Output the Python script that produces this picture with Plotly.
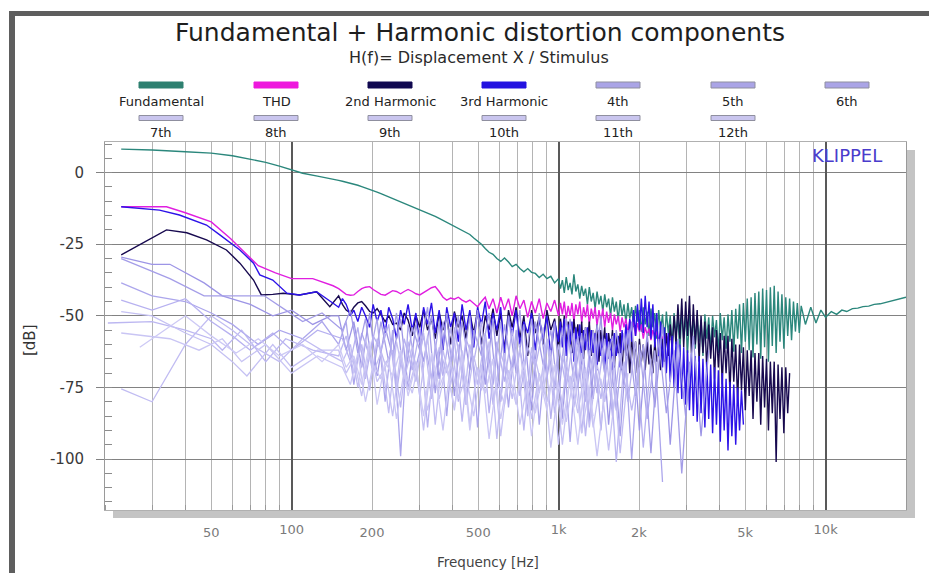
import plotly.graph_objects as go

# ---------------- data ----------------
SERIES_NAMES = ["Fundamental", "THD", "2nd Harmonic", "3rd Harmonic", "4th", "5th", "6th",
                "7th", "8th", "9th", "10th", "11th", "12th"]

# measurement frequency grid, 150 Hz .. 8.1 kHz (Hz)
F_HI = [150, 155, 160, 166, 171, 177, 183, 189, 196, 202,
        209, 216, 224, 231, 239, 247, 256, 264, 273, 283,
        292, 302, 312, 323, 334, 345, 357, 369, 381, 394,
        407, 421, 435, 450, 465, 481, 497, 514, 531, 549,
        568, 587, 607, 627, 649, 670, 693, 716, 741, 766,
        792, 818, 846, 875, 904, 935, 966, 999, 1033, 1068,
        1104, 1141, 1180, 1220, 1261, 1303, 1347, 1393, 1440, 1488,
        1539, 1591, 1644, 1700, 1757, 1817, 1878, 1941, 2007, 2075,
        2145, 2217, 2292, 2370, 2450, 2532, 2618, 2706, 2798, 2892,
        2990, 3091, 3195, 3303, 3415, 3530, 3649, 3773, 3900, 4032,
        4168, 4309, 4454, 4605, 4760, 4921, 5087, 5259, 5437, 5620,
        5810, 6006, 6209, 6419, 6636, 6860, 7092, 7331, 7579, 7835,
        8100]

# finer grid above 1 kHz for the four main curves (Hz)
F_HK = [999, 1016, 1033, 1050, 1068, 1086, 1104, 1122, 1141, 1160,
        1180, 1200, 1220, 1240, 1261, 1282, 1303, 1325, 1347, 1370,
        1393, 1416, 1440, 1464, 1488, 1513, 1539, 1565, 1591, 1617,
        1644, 1672, 1700, 1728, 1757, 1787, 1817, 1847, 1878, 1909,
        1941, 1974, 2007, 2041, 2075, 2110, 2145, 2181, 2217, 2254,
        2292, 2331, 2370, 2410, 2450, 2491, 2532, 2575, 2618, 2662,
        2706, 2752, 2798, 2845, 2892, 2941, 2990, 3040, 3091, 3143,
        3195, 3249, 3303, 3359, 3415, 3472, 3530, 3589, 3649, 3711,
        3773, 3836, 3900, 3966, 4032, 4100, 4168, 4238, 4309, 4381,
        4454, 4529, 4605, 4682, 4760, 4840, 4921, 5003, 5087, 5172,
        5259, 5347, 5437, 5528, 5620, 5714, 5810, 5907, 6006, 6107,
        6209, 6313, 6419, 6527, 6636, 6747, 6860, 6975, 7092, 7211,
        7331, 7454, 7579, 7706, 7835, 7967, 8100]

# Fundamental
FUND_LO_F = [23, 30, 40, 50, 60, 70, 80, 90, 100, 110, 125, 140]
FUND_LO_DB = [8.2, 7.9, 7.3, 6.8, 5.9, 4.8, 3.6, 2.3, 0.9, -0.2, -1.2, -2.3]
FUND_MID_DB = [-2.7, -3.0, -3.3, -3.7, -4.0, -4.4, -4.9, -5.3, -5.8, -6.3,
               -6.8, -7.3, -7.9, -8.5, -9.1, -9.6, -10.2, -10.8, -11.3, -11.9,
               -12.4, -13.0, -13.5, -14.1, -14.6, -15.3, -16.0, -16.7, -17.4, -18.0,
               -18.6, -19.5, -20.2, -21.0, -21.6, -22.8, -23.8, -25.0, -26.5, -27.8,
               -28.5, -30.0, -31.0, -29.8, -31.2, -32.8, -32.0, -33.5, -34.6, -33.5,
               -34.8, -35.2, -36.6, -35.5, -37.0, -36.2, -38.5]
FUND_HK_DB = [-37.0, -40.5, -37.5, -42.0, -36.5, -41.0, -38.5, -42.5, -35.5, -41.5,
              -39.0, -44.0, -39.5, -43.0, -40.5, -46.0, -40.0, -45.0, -42.0, -47.5,
              -41.5, -46.0, -43.0, -48.5, -42.5, -47.0, -44.0, -50.0, -43.5, -48.5,
              -45.0, -51.5, -44.5, -50.0, -46.0, -52.5, -45.5, -51.0, -47.0, -54.0,
              -46.5, -52.0, -48.0, -55.5, -47.0, -53.0, -48.5, -57.0, -47.5, -54.0,
              -49.0, -58.0, -48.0, -55.0, -49.5, -59.5, -48.5, -56.0, -50.0, -61.0,
              -49.0, -57.0, -50.5, -62.5, -48.5, -58.0, -50.0, -63.0, -49.5, -57.5,
              -51.0, -61.5, -50.0, -59.0, -51.5, -64.0, -49.5, -58.0, -50.5, -62.0,
              -50.0, -57.5, -51.5, -63.0, -49.0, -58.5, -50.5, -61.5, -49.5, -59.0,
              -48.0, -62.5, -47.5, -58.0, -46.0, -63.0, -45.5, -59.0, -44.0, -62.0,
              -43.5, -64.5, -42.0, -60.0, -41.5, -65.0, -40.5, -61.0, -41.0, -66.0,
              -40.0, -60.5, -39.5, -63.0, -41.5, -59.0, -42.5, -61.5, -43.5, -57.0,
              -44.0, -58.5, -45.0, -55.5, -45.5, -56.0, -46.5]
FUND_EXT_F = [8400, 8800, 9200, 9600, 10000, 10500, 11000, 11500, 12000, 12600,
              13200, 13800, 14500, 15200, 16000, 16800, 17600, 18500, 19400, 20000]
FUND_EXT_DB = [-53.0, -47.0, -52.5, -48.0, -50.5, -48.5, -49.5, -48.0, -48.5, -47.5,
               -47.3, -46.8, -46.6, -46.0, -45.8, -45.3, -45.0, -44.5, -44.0, -43.5]

# THD
THD_LO_F = [23, 34, 40, 50, 59, 67, 75, 87, 100, 120, 143]
THD_LO_DB = [-11.9, -11.9, -14.0, -17.2, -23.0, -28.0, -32.5, -35.0, -37.0, -37.0, -39.5]
THD_MID_DB = [-40.5, -41.5, -42.5, -42.8, -42.7, -41.5, -40.5, -40.0, -39.8, -40.8,
              -41.8, -42.5, -42.8, -42.0, -41.2, -41.5, -42.3, -41.5, -40.8, -41.5,
              -42.3, -42.7, -42.0, -41.0, -40.2, -39.8, -41.5, -43.5, -44.5, -43.8,
              -44.2, -43.5, -44.5, -45.2, -44.5, -45.8, -46.8, -45.0, -43.5, -47.5,
              -44.0, -49.0, -43.5, -48.0, -44.0, -50.0, -43.0, -47.5, -44.5, -50.5,
              -45.0, -49.0, -44.0, -51.0, -45.5, -48.5, -44.5]
THD_HK_DB = [-50.0, -45.5, -49.5, -45.0, -51.0, -46.5, -50.0, -45.5, -52.0, -46.0,
             -49.5, -45.0, -52.5, -47.0, -50.5, -46.0, -53.0, -47.5, -51.0, -47.0,
             -53.5, -48.0, -52.0, -47.5, -54.0, -48.5, -52.5, -49.0, -55.0, -49.5,
             -53.0, -50.0, -55.5, -50.5, -54.0, -51.0, -56.0, -51.5, -54.5, -52.0,
             -57.0, -52.5, -55.5, -53.0, -58.0, -54.0, -56.5, -54.5, -58.5, -55.0,
             -57.5, -55.5, -59.0, -56.0, -58.0, -56.5, -59.0, -57.0, -58.5]

# 2nd harmonic
H2_LO_F = [23, 34, 40.5, 48, 57, 64, 72, 77, 85, 93, 107, 124, 139]
H2_LO_DB = [-28.7, -20.0, -21.0, -23.5, -27.0, -31.6, -37.5, -42.7, -42.5, -42.1, -42.7, -41.6, -46.8]
H2_MID_DB = [-43, -46, -48, -49, -47, -45.5, -45, -46.5, -48.5, -49,
             -47.5, -49.5, -52, -50, -53, -52.5, -55, -49, -51.5, -57,
             -50, -54, -48, -55, -51, -58, -49, -55, -50, -60,
             -48.5, -54, -50, -58, -49, -56, -48, -60, -50, -55,
             -47.5, -57, -49, -62, -48, -54, -47, -58, -50, -64,
             -48, -56, -50.5, -60, -48, -55, -51]
H2_HK_DB = [-62, -51, -57, -50, -60, -52, -56, -63, -51, -58,
            -53, -61, -52, -65, -54, -59, -52, -64, -55, -60,
            -53, -66, -55, -61, -54, -67, -56, -62, -55, -68,
            -57, -63, -56, -69, -57, -64, -58, -70, -57, -65,
            -59, -70, -58, -66, -60, -69, -59, -67, -60, -70,
            -59, -66, -61, -69, -58, -66, -56, -64, -53, -62,
            -50, -60, -46, -58, -44, -61, -45, -57, -43, -63,
            -46, -60, -48, -66, -50, -63, -52, -69, -53, -65,
            -54, -72, -55, -68, -56, -74, -57, -70, -57, -77,
            -58, -73, -60, -80, -60, -76, -61, -83, -62, -78,
            -62, -86, -63, -80, -63, -88, -64, -82, -65, -90,
            -66, -84, -66, -101, -67, -86, -68, -91, -68, -84,
            -70]

# 3rd harmonic
H3_LO_F = [23, 32, 38, 48, 54, 64, 72, 76, 85, 96, 107, 124, 143]
H3_LO_DB = [-11.9, -13.1, -14.8, -18.3, -21.8, -27.0, -31.6, -35.7, -37.5, -42.1, -42.7, -41.6, -45.6]
H3_MID_DB = [-47, -44, -46, -50, -48, -52, -47, -50, -54, -46,
             -52, -48, -56, -47, -51, -58, -48, -53, -46, -55,
             -49, -60, -47, -53, -45.5, -56, -48, -62, -47, -54,
             -49, -59, -46, -55, -48, -61, -47, -53, -45, -58,
             -49, -55, -47, -63, -50, -57, -48, -60, -52, -56,
             -49, -62, -51, -58, -50, -64, -52]
H3_HK_DB = [-59, -52, -61, -51, -64, -53, -60, -52, -66, -54,
            -61, -53, -67, -55, -62, -54, -68, -55, -63, -56,
            -69, -55, -64, -57, -70, -56, -65, -58, -69, -56,
            -64, -57, -68, -55, -62, -53, -60, -51, -59, -48,
            -57, -46, -55, -44, -56, -43, -54, -45, -58, -46,
            -61, -49, -64, -52, -68, -54, -70, -56, -73, -57,
            -75, -59, -77, -60, -79, -61, -81, -62, -83, -63,
            -85, -64, -87, -64, -84, -65, -89, -66, -86, -67,
            -91, -68, -88, -69, -94, -70, -90, -72, -97, -73,
            -92, -74, -95, -75, -90, -76, -88]

# higher harmonics: low-frequency part + noisy part on every 2nd grid point
H4_LO_F = [23, 30, 35, 47, 55, 70, 85, 100, 120, 140]
H4_LO_DB = [-29.5, -32, -32, -38.5, -43, -46, -50, -48, -53, -50]
H4_HI_DB = [-50, -62, -52, -68, -49, -71, -54, -64, -51, -75, -53, -66, -50, -72, -49, -78,
            -52, -69, -48, -74, -51, -80, -50, -70, -53, -83, -49, -72, -52, -86, -51, -75,
            -54, -79, -50, -88, -55, -74, -52, -90, -56, -82, -53, -95, -58, -85, -57, -92, -62]
H5_LO_F = [23, 35, 47, 62, 79, 95, 110, 130]
H5_LO_DB = [-30, -37, -43, -43, -43, -48, -52, -49]
H5_HI_DB = [-55, -48, -63, -51, -70, -52, -66, -49, -73, -54, -62, -47, -77, -52, -68, -50,
            -81, -55, -64, -49, -76, -53, -70, -48, -84, -52, -67, -55, -79, -51, -73, -56,
            -87, -53, -70, -57, -92, -55, -78, -60, -98, -58, -84, -62, -105, -66]
H6_LO_F = [23, 30, 40, 50, 60, 75, 90, 110, 130]
H6_LO_DB = [-38.5, -43, -45, -49, -53, -60, -55, -58, -52]
H6_HI_DB = [-60, -52, -74, -56, -64, -51, -80, -55, -99, -53, -68, -57, -72, -52, -85, -54,
            -70, -50, -89, -56, -74, -52, -82, -55, -69, -51, -88, -58, -76, -54, -94, -57,
            -80, -55, -90, -59, -83, -56, -100, -60, -86, -62, -108]
H7_LO_F = [23, 30, 40, 50, 60, 70, 85, 100, 125]
H7_LO_DB = [-44.5, -48, -44, -52, -57, -62, -56, -62, -55]
H7_HI_DB = [-58, -66, -54, -72, -57, -62, -53, -77, -58, -69, -55, -89, -60, -71, -54, -80,
            -58, -66, -52, -84, -59, -73, -55, -78, -61, -68, -54, -86, -60, -75, -56, -91,
            -62, -77, -58, -85, -63, -80, -59, -96, -65]
H8_LO_F = [20.5, 30, 40, 50, 55, 65, 80, 95, 120]
H8_LO_DB = [-52.5, -52, -55, -58, -62, -55, -66, -58, -62]
H8_HI_DB = [-64, -57, -70, -60, -76, -58, -67, -62, -82, -59, -73, -56, -79, -61, -70, -58,
            -87, -60, -74, -57, -81, -63, -72, -59, -90, -61, -77, -58, -84, -64, -75, -60,
            -92, -63, -79, -61, -101, -66, -83, -68]
H9_LO_F = [23, 30, 40, 50, 60, 70, 90, 110, 135]
H9_LO_DB = [-75.5, -80, -60, -50, -55, -60, -66, -58, -63]
H9_HI_DB = [-66, -60, -75, -58, -70, -63, -84, -59, -72, -61, -78, -57, -88, -62, -74, -60,
            -81, -64, -76, -59, -93, -63, -79, -61, -85, -65, -77, -62, -95, -66, -82, -63,
            -89, -67, -80, -64, -98, -70]
H10_LO_F = [23, 30, 40, 50, 60, 68, 85, 100, 125]
H10_LO_DB = [-48.5, -50, -56, -60, -66, -71, -60, -68, -62]
H10_HI_DB = [-62, -70, -65, -78, -61, -73, -68, -85, -63, -76, -66, -90, -64, -79, -67, -83,
             -62, -88, -68, -77, -65, -92, -69, -81, -66, -86, -70, -80, -67, -95, -71, -84,
             -68, -89, -72, -97, -74]
H11_LO_F = [23, 35, 45, 55, 65, 80, 100, 125]
H11_LO_DB = [-56, -58, -62, -58, -66, -60, -70, -64]
H11_HI_DB = [-68, -74, -63, -80, -67, -72, -65, -86, -69, -77, -64, -83, -70, -90, -66, -79,
             -71, -85, -67, -93, -72, -81, -68, -88, -73, -84, -69, -96, -74, -87, -70, -91,
             -75, -99, -77]
H12_LO_F = [27, 40, 50, 62, 75, 90, 110, 130]
H12_LO_DB = [-61, -50, -57, -63, -58, -64, -60, -66]
H12_HI_DB = [-60, -68, -64, -74, -59, -81, -66, -71, -62, -78, -67, -85, -63, -75, -68, -82,
             -64, -90, -69, -77, -65, -86, -70, -80, -66, -92, -71, -83, -67, -88, -72, -95,
             -70, -85]

X_TICKS = [50, 200, 500, 2000, 5000]
X_TICK_TEXT = ["50", "200", "500", "2k", "5k"]
X_DECADES = [100, 1000, 10000]
X_DECADE_TEXT = ["100", "1k", "10k"]
X_MINOR = [20, 30, 40, 60, 70, 80, 90, 300, 400, 600, 700, 800, 900,
           3000, 4000, 6000, 7000, 8000, 9000, 20000]
Y_TICKS = [0, -25, -50, -75, -100]
Y_TICK_TEXT = ["0", "-25", "-50", "-75", "-100"]

# ---------------- styling ----------------
LINE_COLORS = ["#2b877c", "#e01ee0", "#17094f", "#2c12e8",
               "#9d95e6", "#a49de8", "#aca6ec", "#b7b1f0", "#bcb7f1",
               "#c1bcf2", "#c5c1f3", "#c9c5f4", "#cdc9f5"]
SWATCH_FILL = ["#2e8070", "#ee18dd", "#100850", "#2412e0"] + ["#aaa4e6"] * 3 + ["#c9c5ee"] * 6
FONT = "DejaVu Sans"

# page (browser window) geometry; the html body adds an 8 px margin around the figure
PAGE_W, PAGE_H, BODY = 937, 573, 8
PLOT_L, PLOT_R, PLOT_T, PLOT_B = 105, 906, 142, 510      # plot area in page pixels
FIG_W, FIG_H = PAGE_W - BODY, PAGE_H - BODY
PW, PH = PLOT_R - PLOT_L, PLOT_B - PLOT_T


def px(x):
    return (x - PLOT_L) / PW


def py(y):
    return (PLOT_B - y) / PH


F_MID = F_HI[:57]          # 150 Hz .. 966 Hz
HI_A = F_HI[0::2]
HI_B = F_HI[1::2]

series = [
    (FUND_LO_F + F_MID + F_HK + FUND_EXT_F, FUND_LO_DB + FUND_MID_DB + FUND_HK_DB + FUND_EXT_DB),
    (THD_LO_F + F_MID + F_HK[:len(THD_HK_DB)], THD_LO_DB + THD_MID_DB + THD_HK_DB),
    (H2_LO_F + F_MID + F_HK[:len(H2_HK_DB)], H2_LO_DB + H2_MID_DB + H2_HK_DB),
    (H3_LO_F + F_MID + F_HK[:len(H3_HK_DB)], H3_LO_DB + H3_MID_DB + H3_HK_DB),
    (H4_LO_F + HI_A[:len(H4_HI_DB)], H4_LO_DB + H4_HI_DB),
    (H5_LO_F + HI_B[:len(H5_HI_DB)], H5_LO_DB + H5_HI_DB),
    (H6_LO_F + HI_A[:len(H6_HI_DB)], H6_LO_DB + H6_HI_DB),
    (H7_LO_F + HI_B[:len(H7_HI_DB)], H7_LO_DB + H7_HI_DB),
    (H8_LO_F + HI_A[:len(H8_HI_DB)], H8_LO_DB + H8_HI_DB),
    (H9_LO_F + HI_B[:len(H9_HI_DB)], H9_LO_DB + H9_HI_DB),
    (H10_LO_F + HI_A[:len(H10_HI_DB)], H10_LO_DB + H10_HI_DB),
    (H11_LO_F + HI_B[:len(H11_HI_DB)], H11_LO_DB + H11_HI_DB),
    (H12_LO_F + HI_A[:len(H12_HI_DB)], H12_LO_DB + H12_HI_DB),
]

fig = go.Figure()
for i, (f, d) in enumerate(series):
    fig.add_trace(go.Scatter(
        x=f, y=d, mode="lines", name=SERIES_NAMES[i], showlegend=False,
        line=dict(color=LINE_COLORS[i], width=1.4 if i < 4 else 1.3),
        hoverinfo="x+y+name"))

# empty trace so that the overlaid decade axis (dark grid lines + labels) is drawn
fig.add_trace(go.Scatter(x=X_DECADES, y=[None] * len(X_DECADES), xaxis="x2", yaxis="y",
                         mode="lines", showlegend=False, hoverinfo="skip"))

shapes = []
annotations = []

# outer window frame
shapes.append(dict(type="rect", xref="paper", yref="paper", layer="above",
                   x0=px(9), x1=px(15), y0=py(PAGE_H + 5), y1=py(11),
                   fillcolor="#5e5e5e", line=dict(width=0)))
shapes.append(dict(type="rect", xref="paper", yref="paper", layer="above",
                   x0=px(9), x1=px(PAGE_W + 5), y0=py(16), y1=py(11),
                   fillcolor="#5e5e5e", line=dict(width=0)))
# plot drop shadow
shapes.append(dict(type="rect", xref="paper", yref="paper", layer="below",
                   x0=px(PLOT_R + 1), x1=px(PLOT_R + 9), y0=py(PLOT_B + 8), y1=py(PLOT_T + 8),
                   fillcolor="#c4c4c4", line=dict(width=0)))
shapes.append(dict(type="rect", xref="paper", yref="paper", layer="below",
                   x0=px(PLOT_L + 8), x1=px(PLOT_R + 9), y0=py(PLOT_B + 8), y1=py(PLOT_B + 1),
                   fillcolor="#c4c4c4", line=dict(width=0)))

# legend (swatch above label, two rows of seven columns)
LEG_COL_PX = [161, 276, 390, 504, 618, 733, 847]
LEG_SW_Y = [85, 118]
LEG_TX_Y = [102, 132]
for i, name in enumerate(SERIES_NAMES):
    row, col = divmod(i, 7)
    cx = LEG_COL_PX[col]
    hh = 3 if row == 0 else 2.5
    shapes.append(dict(type="rect", xref="paper", yref="paper",
                       x0=px(cx - 22), x1=px(cx + 22),
                       y0=py(LEG_SW_Y[row] + hh), y1=py(LEG_SW_Y[row] - hh),
                       fillcolor=SWATCH_FILL[i],
                       line=dict(color="#8f8f9f" if i >= 4 else SWATCH_FILL[i], width=1)))
    annotations.append(dict(text=name, xref="paper", yref="paper", x=px(cx), y=py(LEG_TX_Y[row]),
                            xanchor="center", yanchor="middle", showarrow=False,
                            font=dict(family=FONT, size=13, color="#222222")))

annotations += [
    dict(text="Fundamental + Harmonic distortion components", xref="paper", yref="paper",
         x=px(480), y=py(33), xanchor="center", yanchor="middle", showarrow=False,
         font=dict(family=FONT, size=25, color="#1e1e1e")),
    dict(text="H(f)= Displacement X / Stimulus", xref="paper", yref="paper",
         x=px(479), y=py(57), xanchor="center", yanchor="middle", showarrow=False,
         font=dict(family=FONT, size=16, color="#2a2a2a")),
    dict(text="KLIPPEL", xref="paper", yref="paper", x=px(810), y=py(155),
         xanchor="left", yanchor="middle", showarrow=False,
         font=dict(family=FONT, size=18, color="#4a3ccc")),
    dict(text="Frequency [Hz]", xref="paper", yref="paper", x=px(488), y=py(562),
         xanchor="center", yanchor="middle", showarrow=False,
         font=dict(family=FONT, size=13.5, color="#444444")),
    dict(text="[dB]", xref="paper", yref="paper", x=px(30), y=py(340), textangle=-90,
         xanchor="center", yanchor="middle", showarrow=False,
         font=dict(family=FONT, size=15, color="#333333")),
]

x_range = [1.30103, 4.30103]
tick_font = dict(family=FONT, size=13, color="#7a7a7a")

fig.update_layout(
    width=FIG_W, height=FIG_H,
    margin=dict(l=PLOT_L - BODY, r=PAGE_W - PLOT_R, t=PLOT_T - BODY, b=PAGE_H - PLOT_B),
    paper_bgcolor="white", plot_bgcolor="white",
    showlegend=False,
    shapes=shapes, annotations=annotations,
    xaxis=dict(type="log", range=x_range,
               tickmode="array", tickvals=X_TICKS, ticktext=X_TICK_TEXT,
               showgrid=True, gridcolor="#b4b4b4", gridwidth=1,
               ticks="", ticklabelstandoff=10, tickfont=tick_font,
               minor=dict(tickmode="array", tickvals=X_MINOR, showgrid=True,
                          gridcolor="#b4b4b4", gridwidth=1,
                          ticks="inside", ticklen=5, tickcolor="#999999"),
               showline=True, mirror=True, linecolor="#b0b0b0", linewidth=1,
               zeroline=False),
    xaxis2=dict(type="log", range=x_range, overlaying="x", anchor="y", side="bottom",
                tickmode="array", tickvals=X_DECADES, ticktext=X_DECADE_TEXT,
                showgrid=True, gridcolor="#595959", gridwidth=1.6,
                ticks="", ticklabelstandoff=10, tickfont=tick_font,
                showline=False, zeroline=False),
    yaxis=dict(range=[-117.8, 10.7], tickmode="array", tickvals=Y_TICKS, ticktext=Y_TICK_TEXT,
               showgrid=True, gridcolor="#828282", gridwidth=1.3,
               ticks="outside", ticklen=8, tickcolor="#828282", tickwidth=1.3,
               ticklabelstandoff=9,
               tickfont=dict(family=FONT, size=15, color="#3a3a3a"),
               minor=dict(dtick=5, tick0=0, ticks="inside", ticklen=7, tickcolor="#8c8c8c",
                          showgrid=False),
               showline=True, mirror=True, linecolor="#9a9a9a", linewidth=1,
               zeroline=False),
)

fig.write_html("out.html")
